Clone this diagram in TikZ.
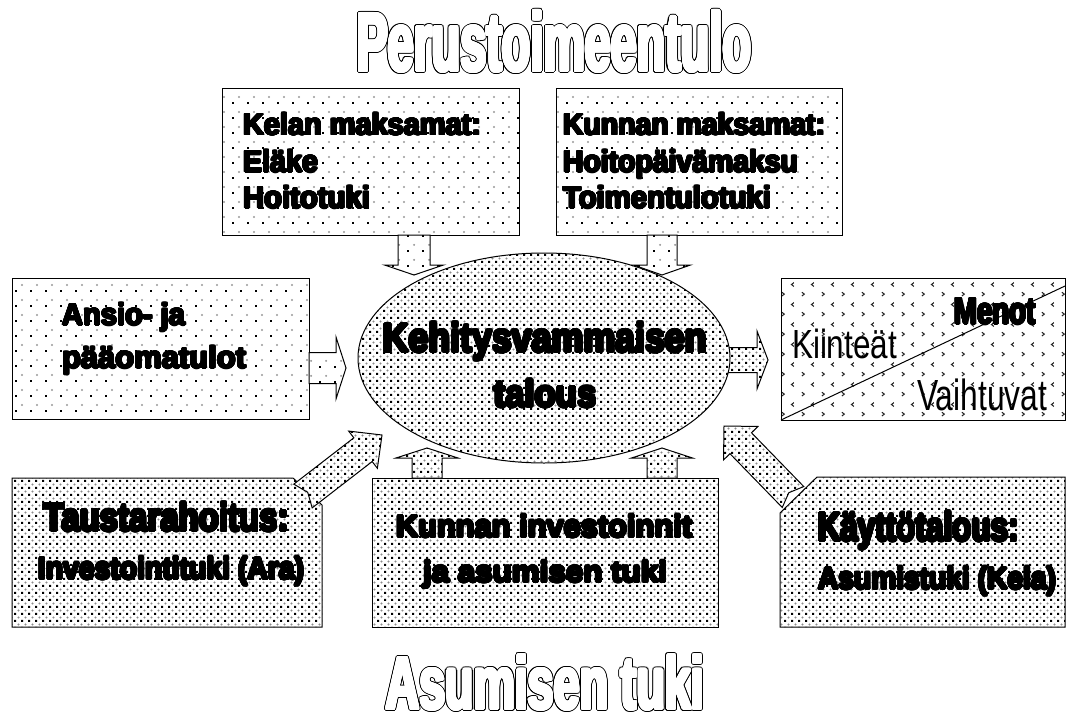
\documentclass[tikz,border=0pt]{standalone}
\usepackage{fontspec}
\usepackage{graphicx}
\usepackage[copies]{contour}
\usetikzlibrary{patterns,calc,shapes.geometric}
\newfontfamily\hv{Liberation Sans}
\newfontfamily\nar{Liberation Sans}
\newcommand\hvb{\hv\bfseries}
\newcommand\fitt[4]{\resizebox{#1}{#2}{#3\smash{#4}\vphantom{H}}}
\newcommand\thick[2]{{\contourlength{#1}\contour{black}{#2}}}
\contournumber{24}

\pgfdeclarepatterninherentlycolored{sparsedots}{\pgfpointorigin}{\pgfqpoint{14.5pt}{14.5pt}}{\pgfqpoint{14.5pt}{14.5pt}}{%
  \pgfsetfillcolor{black}\pgfpathrectangle{\pgfqpoint{0pt}{0pt}}{\pgfqpoint{2pt}{2pt}}\pgfusepath{fill}%
  \pgfsetfillcolor{black!40}\pgfpathcircle{\pgfqpoint{7.25pt}{7.25pt}}{1.1pt}\pgfusepath{fill}}
\pgfdeclarepatterninherentlycolored{densedots}{\pgfpointorigin}{\pgfqpoint{7.4pt}{7.4pt}}{\pgfqpoint{7.4pt}{7.4pt}}{%
  \pgfsetfillcolor{black}\pgfpathrectangle{\pgfqpoint{0pt}{0pt}}{\pgfqpoint{2.2pt}{2.2pt}}\pgfusepath{fill}%
  \pgfsetfillcolor{black!45}\pgfpathcircle{\pgfqpoint{4.8pt}{4.8pt}}{1.2pt}\pgfusepath{fill}}
\pgfdeclarepatterninherentlycolored{chevrons}{\pgfpointorigin}{\pgfqpoint{20pt}{20pt}}{\pgfqpoint{20pt}{20pt}}{%
  \pgfsetstrokecolor{black!85}\pgfsetlinewidth{1.1pt}%
  \pgfpathmoveto{\pgfqpoint{2pt}{1pt}}\pgfpathlineto{\pgfqpoint{4.5pt}{3pt}}\pgfpathlineto{\pgfqpoint{2pt}{5pt}}\pgfusepath{stroke}%
  \pgfpathmoveto{\pgfqpoint{14.5pt}{11pt}}\pgfpathlineto{\pgfqpoint{12pt}{13pt}}\pgfpathlineto{\pgfqpoint{14.5pt}{15pt}}\pgfusepath{stroke}}

\newcommand\barrow[7]{%
  \coordinate (hb) at ($(#3)!#6!(#2)$);
  \draw[#1] ($(#2)!#4!90:(#3)$) -- ($(hb)!#4!-90:(#2)$) -- ($(hb)!#5!-90:(#2)$) -- (#3)
    -- ($(hb)!#5!90:(#2)$) -- ($(hb)!#4!90:(#2)$) -- ($(#2)!#4!-90:(#3)$) -- ($(#2)!#7!(#3)$) -- cycle;}

\begin{document}
\begin{tikzpicture}[x=1pt,y=-1pt,
  shp/.style={draw=black,line width=1pt,line join=miter},
  sparse/.style={shp,preaction={fill=white},pattern=sparsedots},
  dense/.style={shp,preaction={fill=white},pattern=densedots},
  chev/.style={shp,preaction={fill=white},pattern=chevrons},
  boxst/.style={inner sep=0pt,outer sep=0pt,anchor=north west},
  txt/.style={anchor=base west,inner sep=0pt,outer sep=0pt}]
\useasboundingbox (0,0) rectangle (1067,717);
\fill[white] (0,0) rectangle (1067,717);

% boxes
\node[boxst,sparse,minimum width=297pt,minimum height=147pt] (kelan) at (222,88) {};
\node[boxst,sparse,minimum width=286pt,minimum height=147pt] (kunnan) at (556,88) {};
\node[boxst,sparse,minimum width=297pt,minimum height=141pt] (ansio) at (12,278) {};
\node[boxst,chev,minimum width=284pt,minimum height=142pt] (menot) at (781,278) {};
\node[boxst,dense,minimum width=346pt,minimum height=149pt] (kinv) at (372,478) {};
\draw[dense] (12,478) -- (293,478) -- (322,505) -- (322,627) -- (12,627) -- cycle;
\draw[dense] (817,477) -- (1065,477) -- (1065,627) -- (780,627) -- (780,513) -- cycle;
\coordinate (menotE) at (1065,286);
\draw[line width=1pt] (menot.south west) -- (menotE);

% arrow coordinates
\coordinate (a1t) at (414,235); \coordinate (a1h) at (414,275);
\coordinate (a2t) at (662,235); \coordinate (a2h) at (662,275);
\coordinate (a3t) at (309,368); \coordinate (a3h) at (346,368);
\coordinate (a4t) at (722,360); \coordinate (a4h) at (768,360);
\coordinate (a5t) at (427,478); \coordinate (a5h) at (427,448);
\coordinate (a6t) at (662,478); \coordinate (a6h) at (662,448);
\coordinate (a7t) at (303,496); \coordinate (a7h) at (382,435);
\coordinate (a8t) at (793,497); \coordinate (a8h) at (724,426);

\barrow{sparse}{a1t}{a1h}{16pt}{29.5pt}{10pt}{0pt}
\barrow{sparse}{a2t}{a2h}{15pt}{28.5pt}{10pt}{0pt}
\barrow{sparse}{a3t}{a3h}{15.5pt}{31pt}{10pt}{0pt}
\barrow{dense}{a4t}{a4h}{12.5pt}{29pt}{11pt}{0pt}
\barrow{dense}{a5t}{a5h}{15pt}{31pt}{10pt}{0pt}
\barrow{dense}{a6t}{a6h}{15pt}{30.5pt}{10pt}{0pt}

% ellipse
\node[ellipse,dense,minimum width=372pt,minimum height=210pt,inner sep=0pt] (ell) at (544,358) {};

\barrow{dense}{a7t}{a7h}{15pt}{23.5pt}{24pt}{6pt}
\barrow{dense}{a8t}{a8h}{15pt}{24pt}{24pt}{6pt}

% titles: black thick layer, then white thinner layer
\node[txt] (title1) at (357,71) {\thick{2.6pt}{\fitt{394pt}{57pt}{\hvb}{Perustoimeentulo}}};
\node[txt] (title1w) at (357,71) {\color{white}{\contourlength{1.5pt}\contour{white}{\fitt{394pt}{57pt}{\hvb}{Perustoimeentulo}}}};
\node[txt] (title2) at (386,709) {\thick{2.6pt}{\fitt{318pt}{51pt}{\hvb}{Asumisen tuki}}};
\node[txt] (title2w) at (386,709) {\color{white}{\contourlength{1.5pt}\contour{white}{\fitt{318pt}{51pt}{\hvb}{Asumisen tuki}}}};

% texts
\node[txt] (k1) at (243,135) {\thick{1pt}{\fitt{238pt}{21pt}{\hvb}{Kelan maksamat:}}};
\node[txt] (k2) at (243,172) {\thick{1pt}{\fitt{75pt}{21pt}{\hvb}{Eläke}}};
\node[txt] (k3) at (243,208) {\thick{1pt}{\fitt{127pt}{21pt}{\hvb}{Hoitotuki}}};
\node[txt] (u1) at (563,135) {\thick{1pt}{\fitt{262pt}{21pt}{\hvb}{Kunnan maksamat:}}};
\node[txt] (u2) at (563,172) {\thick{1pt}{\fitt{235pt}{21pt}{\hvb}{Hoitopäivämaksu}}};
\node[txt] (u3) at (563,208) {\thick{1pt}{\fitt{208pt}{21pt}{\hvb}{Toimentulotuki}}};
\node[txt] (s1) at (62,325) {\thick{1pt}{\fitt{123pt}{21pt}{\hvb}{Ansio- ja}}};
\node[txt] (s2) at (62,368) {\thick{1pt}{\fitt{184pt}{21pt}{\hvb}{pääomatulot}}};
\node[txt] (e1) at (383,352) {\thick{1.3pt}{\fitt{324pt}{28pt}{\hvb}{Kehitysvammaisen}}};
\node[txt] (e2) at (494,407) {\thick{1.3pt}{\fitt{103pt}{26pt}{\hvb}{talous}}};
\node[txt] (m1) at (792,358) {\fitt{105pt}{28pt}{\nar}{Kiinteät}};
\node[txt] (m2) at (954,324) {\thick{1pt}{\fitt{82pt}{26pt}{\hvb}{Menot}}};
\node[txt] (m3) at (917,410) {\fitt{130pt}{30pt}{\nar}{Vaihtuvat}};
\node[txt] (t1) at (44,531) {\thick{1.3pt}{\fitt{245pt}{27pt}{\hvb}{Taustarahoitus:}}};
\node[txt] (t2) at (38,579) {\thick{1.2pt}{\fitt{266pt}{21pt}{\hvb}{Investointituki (Ara)}}};
\node[txt] (i1) at (396,537) {\thick{1.2pt}{\fitt{296pt}{21pt}{\hvb}{Kunnan investoinnit}}};
\node[txt] (i2) at (423,582) {\thick{1.2pt}{\fitt{244pt}{20pt}{\hvb}{ja asumisen tuki}}};
\node[txt] (y1) at (818,541) {\thick{1.3pt}{\fitt{201pt}{28pt}{\hvb}{Käyttötalous:}}};
\node[txt] (y2) at (818,589) {\thick{1.2pt}{\fitt{238pt}{21pt}{\hvb}{Asumistuki (Kela)}}};
\end{tikzpicture}
\end{document}
